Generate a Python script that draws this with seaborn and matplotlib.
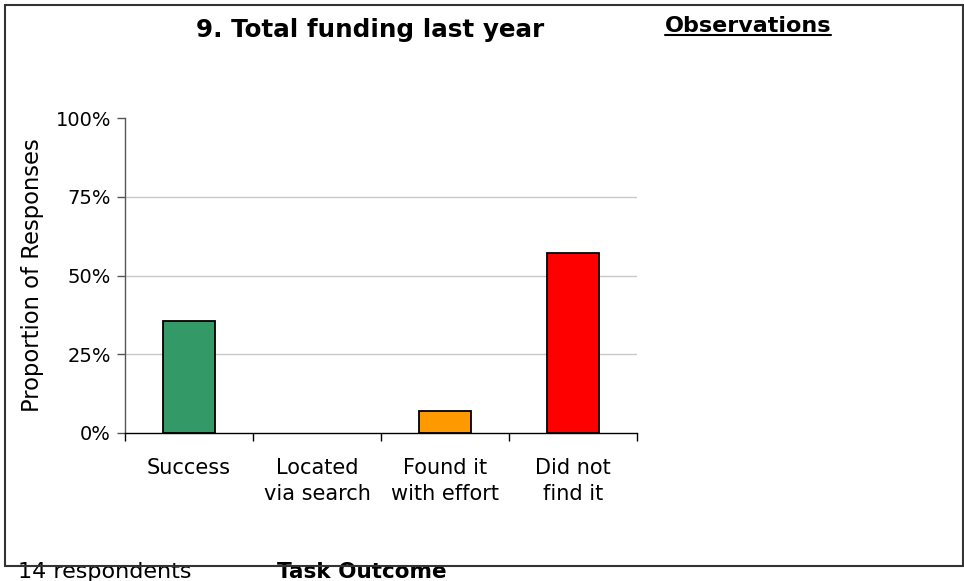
import matplotlib
matplotlib.use("Agg")
import matplotlib.pyplot as plt
from matplotlib.patches import Rectangle
import seaborn as sns
import pandas as pd

# Task outcome shares for 14 respondents
categories = ["Success", "Located\nvia search", "Found it\nwith effort", "Did not\nfind it"]
shares = [5 / 14, 0.0, 1 / 14, 8 / 14]
bar_colors = ["#339966", "#3366CC", "#FF9900", "#FF0000"]
y_ticks = [0, 0.25, 0.5, 0.75, 1.0]
y_tick_labels = ["0%", "25%", "50%", "75%", "100%"]

sns.set_theme(style="white")
plt.rcParams["font.family"] = ["DejaVu Sans"]
plt.rcParams["text.color"] = "black"
plt.rcParams["axes.labelcolor"] = "black"
plt.rcParams["xtick.color"] = "black"
plt.rcParams["ytick.color"] = "black"

W, H = 964, 581
fig = plt.figure(figsize=(W / 100, H / 100), dpi=100)
ax = fig.add_axes([125 / W, 1 - 433 / H, (637 - 125) / W, (433 - 118) / H])

df = pd.DataFrame({"outcome": categories, "share": shares})
sns.barplot(data=df, x="outcome", y="share", hue="outcome", palette=bar_colors,
            order=categories, hue_order=categories, legend=False,
            width=0.4, edgecolor="black", linewidth=1.3, saturation=1, ax=ax)
# empty categories get no visible outline
for patch in ax.patches:
    if patch.get_height() == 0:
        patch.set_linewidth(0)

ax.set_xlim(-0.5, len(categories) - 0.5)
ax.set_ylim(0, 1)
ax.set_yticks(y_ticks)
ax.set_yticklabels(y_tick_labels)
for y in y_ticks[1:-1]:
    ax.axhline(y, color="#c8c8c8", linewidth=1, zorder=0)

ax.set_xlabel("")
ax.set_ylabel("Proportion of Responses", fontsize=16.3)
ax.yaxis.set_label_coords(-81 / (637 - 125), 0.5)
ax.tick_params(axis="y", which="major", left=True, direction="out", length=6,
               width=1, color="#555555", labelsize=14, pad=4)
ax.tick_params(axis="x", which="major", bottom=False, labelsize=15, pad=12)
for lbl in ax.get_xticklabels():
    lbl.set_linespacing(1.4)
ax.set_xticks([i - 0.5 for i in range(len(categories) + 1)], minor=True)
ax.tick_params(axis="x", which="minor", bottom=True, direction="out", length=6,
               width=1, color="black")

for side in ("top", "right"):
    ax.spines[side].set_visible(False)
ax.spines["left"].set_color("#555555")
ax.spines["bottom"].set_color("black")
ax.spines["left"].set_linewidth(1)
ax.spines["bottom"].set_linewidth(1)

fig.text(370 / W, 1 - 30 / H, "9. Total funding last year", ha="center", va="center",
         fontsize=17.7, fontweight="bold")
obs = fig.text(748 / W, 1 - 26 / H, "Observations", ha="center", va="center",
               fontsize=16, fontweight="bold")
fig.canvas.draw()
bb = obs.get_window_extent()
fig.add_artist(plt.Line2D([bb.x0 / W, bb.x1 / W], [(bb.y0 + 1) / H, (bb.y0 + 1) / H],
                          color="black", linewidth=1.5, transform=fig.transFigure))

fig.patches.append(Rectangle((5 / W, 1 - 566 / H), (963 - 5) / W, (566 - 5) / H,
                             transform=fig.transFigure, fill=False,
                             edgecolor="#333333", linewidth=1.5, zorder=5))

fig.text(18 / W, 1 - 562 / H, "14 respondents", ha="left", va="top", fontsize=16)
fig.text(362 / W, 1 - 562 / H, "Task Outcome", ha="center", va="top", fontsize=15.5,
         fontweight="bold")

fig.savefig("out.png", dpi=100, facecolor="white")
